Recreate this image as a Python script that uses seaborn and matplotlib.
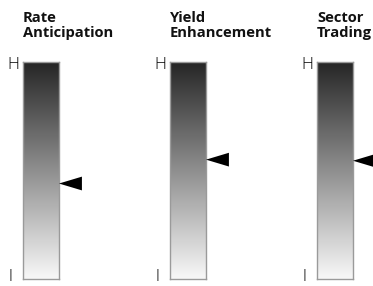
import numpy as np
import matplotlib
matplotlib.use("Agg")
import matplotlib.pyplot as plt
import seaborn as sns
from matplotlib.colors import LinearSegmentedColormap

# strategy names and where each one sits between l (low) and H (high)
titles = ["Rate\nAnticipation", "Yield\nEnhancement", "Sector\nTrading"]
levels = [0.44, 0.55, 0.545]
top_label = "H"
bottom_label = "l"

sns.set_style("white")
plt.rcParams["font.family"] = ["Open Sans", "DejaVu Sans"]

W, H = 373, 286
fig = plt.figure(figsize=(W / 100, H / 100), dpi=100)

# dark at the top (high), light at the bottom (low)
cmap = LinearSegmentedColormap.from_list("bar", ["#f8f8f8", "#262626"])
grad = np.linspace(0, 1, 256).reshape(-1, 1)
arrow = [(0, 0), (1, 0.3), (1, -0.3)]

for i, (title, level) in enumerate(zip(titles, levels)):
    left = 23 + i * 147
    ax = fig.add_axes([left / W, 7 / H, 36 / W, 217 / H])
    ax.imshow(grad, cmap=cmap, aspect="auto", extent=(0, 1, 0, 1),
              origin="lower")
    ax.set_xlim(0, 1)
    ax.set_ylim(0, 1)
    for s in ax.spines.values():
        s.set_color("#9a9a9a")
        s.set_linewidth(1.0)
    ax.set_xticks([])
    ax.set_yticks([])

    sns.scatterplot(x=[1.0], y=[level], ax=ax, marker=arrow, s=33 ** 2,
                    color="black", edgecolor="none", clip_on=False,
                    zorder=5)

    ax.text(-0.11, 1.025, top_label, transform=ax.transAxes, ha="right",
            va="top", fontsize=12, fontweight="light", color="black")
    ax.text(-0.36, -6 / 217, bottom_label, transform=ax.transAxes,
            ha="center", va="bottom", fontsize=12, fontweight="light",
            color="black")
    ax.text(0.0, 1.0 + 22 / 217, title, transform=ax.transAxes, ha="left",
            va="bottom", fontsize=10.6, fontweight="bold", color="#111111",
            linespacing=1.1)

fig.savefig("out.png", dpi=100)
